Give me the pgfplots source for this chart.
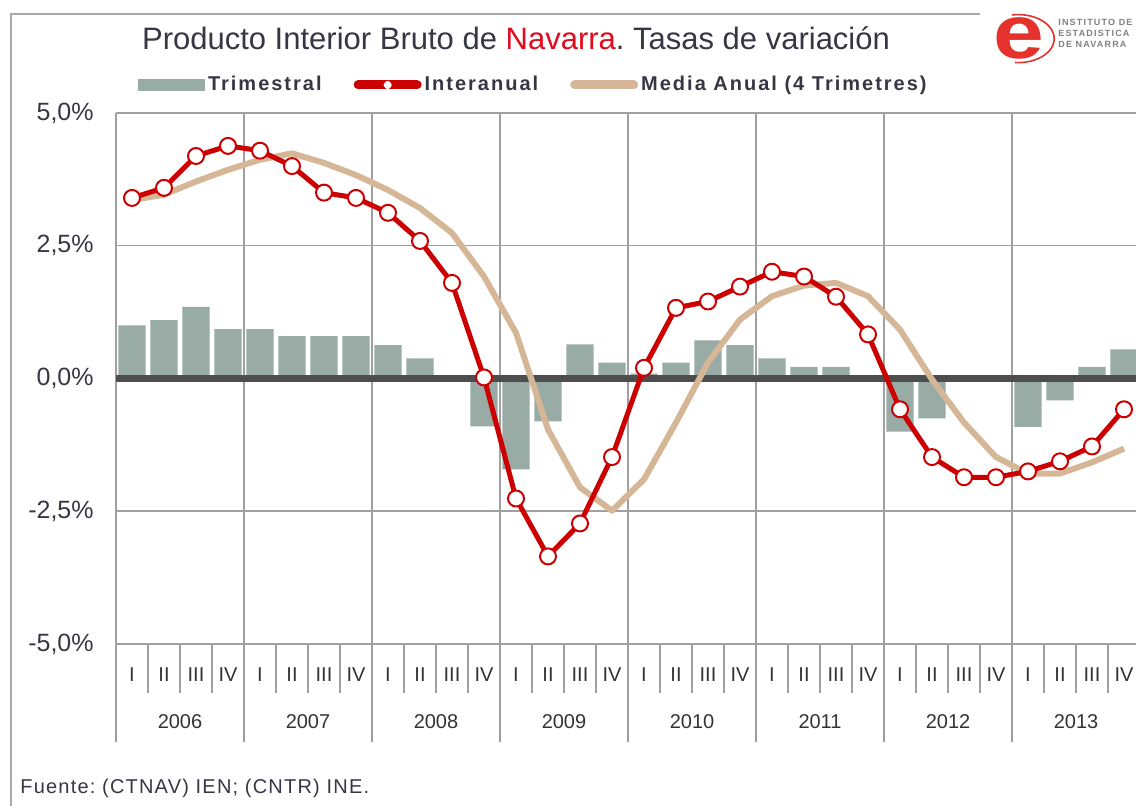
\documentclass[border=0pt]{standalone}
\usepackage{fontspec}
\setmainfont{Liberation Sans}
\newfontfamily\legfont[LetterSpace=10]{Liberation Sans}
\newfontfamily\footfont[LetterSpace=6]{Liberation Sans}
\newfontfamily\logofont[LetterSpace=13]{Liberation Sans}
\usepackage{pgfplots}
\pgfplotsset{compat=1.18}
\usepackage{pgfplotstable}

\definecolor{barc}{RGB}{152,171,164}
\definecolor{redc}{RGB}{204,0,0}
\definecolor{tanc}{RGB}{213,183,152}
\definecolor{gridc}{RGB}{160,160,160}
\definecolor{zeroc}{RGB}{77,77,77}
\definecolor{textc}{RGB}{55,55,68}
\definecolor{navred}{RGB}{225,10,30}
\definecolor{logored}{RGB}{230,50,45}
\definecolor{framec}{RGB}{168,168,168}

% x = quarter index (0 = 2006 I), tasas en %
\pgfplotstableread{
x  trim   inter  media
0   1.00   3.40   3.36
1   1.10   3.59   3.46
2   1.35   4.19   3.71
3   0.93   4.38   3.93
4   0.93   4.29   4.12
5   0.80   4.00   4.24
6   0.80   3.50   4.06
7   0.80   3.40   3.83
8   0.63   3.12   3.55
9   0.38   2.59   3.21
10  0.00   1.80   2.74
11 -0.90   0.02   1.92
12 -1.71  -2.26   0.86
13 -0.81  -3.35  -0.96
14  0.64  -2.73  -2.05
15  0.30  -1.48  -2.49
16  0.09   0.20  -1.90
17  0.30   1.33  -0.83
18  0.72   1.45   0.30
19  0.63   1.73   1.11
20  0.38   2.01   1.55
21  0.22   1.92   1.75
22  0.22   1.54   1.80
23  0.00   0.83   1.55
24 -1.00  -0.58   0.92
25 -0.75  -1.48  -0.02
26  0.00  -1.86  -0.83
27  0.00  -1.86  -1.48
28 -0.91  -1.75  -1.79
29 -0.41  -1.56  -1.79
30  0.22  -1.28  -1.58
31  0.55  -0.58  -1.32
}\datatable

\begin{document}
\frenchspacing
\begin{tikzpicture}
\useasboundingbox (0,0) rectangle (568pt,403pt);
% outer frame
\draw[framec, line width=1pt] (490pt,396pt) -- (5.5pt,396pt) -- (5.5pt,0pt);
% title
\node[text=textc, font=\fontsize{15.5}{18}\selectfont, inner sep=0pt]
  at (258pt,384pt) {Producto Interior Bruto de \textcolor{navred}{Navarra}. Tasas de variación};
% logo
\node[text=logored, font=\bfseries\fontsize{38}{38}\selectfont, inner sep=0pt, xscale=1.2]
  at (509.5pt,384pt) {e};
\draw[logored, line width=0.8pt] (506pt,395.5pt) arc[start angle=100, end angle=-95, x radius=18pt, y radius=12pt];
\node[text=black!50, font=\logofont\bfseries\fontsize{4.5}{5}\selectfont, anchor=west, inner sep=0pt]
  at (529pt,392pt) {INSTITUTO DE};
\node[text=black!50, font=\logofont\bfseries\fontsize{4.5}{5}\selectfont, anchor=west, inner sep=0pt]
  at (529pt,386.5pt) {ESTADISTICA};
\node[text=black!50, font=\logofont\bfseries\fontsize{4.5}{5}\selectfont, anchor=west, inner sep=0pt]
  at (529pt,381pt) {DE NAVARRA};

\begin{axis}[
  at={(58pt,81pt)}, anchor=south west,
  scale only axis, width=510pt, height=265.5pt,
  xmin=-0.5, xmax=31.375, ymin=-5, ymax=5,
  clip=false,
  axis line style={draw=none},
  major tick length=0pt, minor tick length=0pt,
  ytick={-5,-2.5,0,2.5,5},
  yticklabels={{-5,0\%},{-2,5\%},{0,0\%},{2,5\%},{5,0\%}},
  yticklabel style={font=\fontsize{12.5}{14}\selectfont, text=textc, anchor=east, inner sep=0pt, xshift=-11pt},
  xtick={0,...,31},
  xticklabels={I,II,III,IV,I,II,III,IV,I,II,III,IV,I,II,III,IV,
               I,II,III,IV,I,II,III,IV,I,II,III,IV,I,II,III,IV},
  xticklabel style={font=\fontsize{10}{12}\selectfont, text=black!80, anchor=center, inner sep=0pt, yshift=-15.5pt},
  minor xtick={-0.5,3.5,...,27.5},
  ymajorgrids, xminorgrids,
  grid style={gridc, line width=0.75pt},
  minor grid style={gridc, line width=0.75pt},
  legend columns=3,
  legend cell align=left,
  legend style={at={(0.0216,1.0527)}, anchor=west, draw=none, fill=none,
    inner sep=0pt, outer sep=0pt,
    font=\legfont\bfseries\fontsize{10}{12}\selectfont, text=textc,
    nodes={inner sep=0pt},
    /tikz/every odd column/.append style={column sep=1.5pt},
    /tikz/every even column/.append style={column sep=16pt}},
]
\addplot[ybar, bar width=0.85, fill=barc, draw=none,
  legend image code/.code={\fill[barc] (0pt,-3pt) rectangle (33.5pt,3pt);}]
  table[x=x, y=trim]{\datatable};
\addlegendentry{Trimestral}

\draw[zeroc, line width=3.5pt] (axis cs:-0.5,0) -- (axis cs:31.375,0);

\addplot[tanc, line width=3pt, line join=round, forget plot]
  table[x=x, y=media]{\datatable};

\addplot[redc, line width=2.5pt, line join=round, mark=*, mark size=4pt,
  mark options={fill=white, draw=redc, line width=1pt},
  legend image code/.code={
    \draw[redc, line width=4.5pt, line cap=round] (2.25pt,0pt) -- (31.75pt,0pt);
    \fill[white] (17pt,0pt) circle (0.8pt);}]
  table[x=x, y=inter]{\datatable};
\addlegendentry{Interanual}

\addlegendimage{legend image code/.code={
    \draw[tanc, line width=4.5pt, line cap=round] (2.25pt,0pt) -- (31.75pt,0pt);}}
\addlegendentry{Media Anual (4 Trimetres)}

% separators below the axis
\pgfplotsinvokeforeach{0.5,1.5,...,30.5}{
  \draw[gridc, line width=0.75pt] (axis cs:#1,-5) -- ++(0pt,-24.5pt);
}
\pgfplotsinvokeforeach{-0.5,3.5,...,27.5}{
  \draw[gridc, line width=0.75pt] (axis cs:#1,-5) -- ++(0pt,-49pt);
}
\node[font=\fontsize{10}{12}\selectfont, text=black!80] at (axis cs:1.5,-5) [yshift=-39pt] {2006};
\node[font=\fontsize{10}{12}\selectfont, text=black!80] at (axis cs:5.5,-5) [yshift=-39pt] {2007};
\node[font=\fontsize{10}{12}\selectfont, text=black!80] at (axis cs:9.5,-5) [yshift=-39pt] {2008};
\node[font=\fontsize{10}{12}\selectfont, text=black!80] at (axis cs:13.5,-5) [yshift=-39pt] {2009};
\node[font=\fontsize{10}{12}\selectfont, text=black!80] at (axis cs:17.5,-5) [yshift=-39pt] {2010};
\node[font=\fontsize{10}{12}\selectfont, text=black!80] at (axis cs:21.5,-5) [yshift=-39pt] {2011};
\node[font=\fontsize{10}{12}\selectfont, text=black!80] at (axis cs:25.5,-5) [yshift=-39pt] {2012};
\node[font=\fontsize{10}{12}\selectfont, text=black!80] at (axis cs:29.5,-5) [yshift=-39pt] {2013};
\end{axis}

% footer
\node[text=textc, font=\footfont\fontsize{10}{12}\selectfont, anchor=west, inner sep=0pt]
  at (10pt,9pt) {Fuente: (CTNAV) IEN; (CNTR) INE.};
\end{tikzpicture}
\end{document}
